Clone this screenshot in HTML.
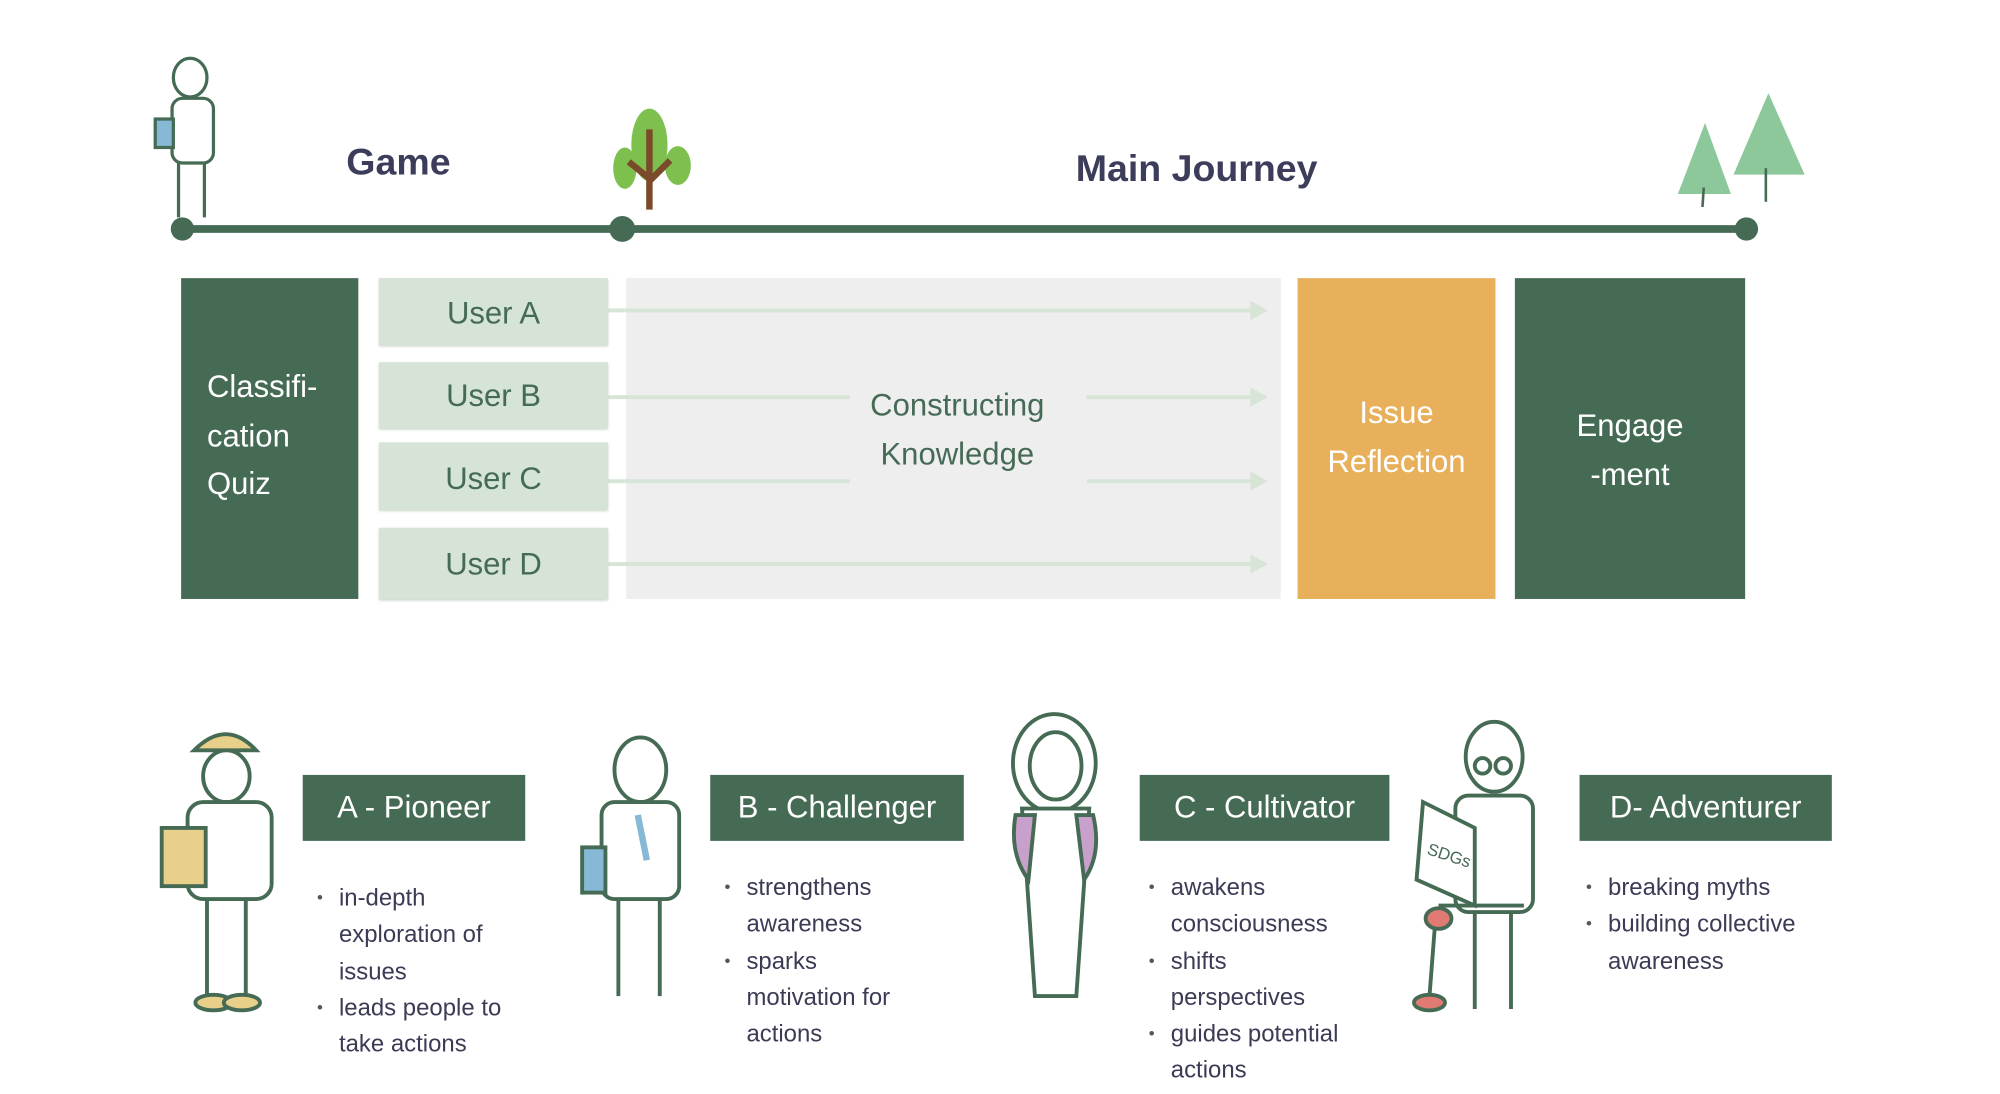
<!DOCTYPE html>
<html><head><meta charset="utf-8"><style>
html,body{margin:0;padding:0;background:#fff;}
body{width:2000px;height:1094px;overflow:hidden;position:relative;}
#c{position:absolute;left:0;top:0;width:1546px;height:846px;transform:scale(1.29366);transform-origin:0 0;font-family:"Liberation Sans",sans-serif;}
.a{position:absolute;}
.t{font-size:24px;line-height:37.5px;}
.dk{background:#456b55;color:#fff;}
.ug{background:#d5e4d6;color:#466b55;text-align:center;box-shadow:0 1px 2px #c8d6c8;}
.lab{background:#456b55;color:#fff;font-size:24px;text-align:center;line-height:51px;height:51px;}
ul{margin:0;padding:0;list-style:none;font-size:18.5px;line-height:28.3px;color:#3b3b55;}
li{position:relative;}
li:before{content:"•";position:absolute;left:-17px;font-size:13px;color:#555;}
</style></head><body><div id="c">
<svg class="a" style="left:0;top:0" width="1546" height="846">
 <line x1="140" y1="177" x2="1350" y2="177" stroke="#466b55" stroke-width="6"/>
 <circle cx="141" cy="177" r="9" fill="#466b55"/><circle cx="481" cy="177" r="10" fill="#466b55"/><circle cx="1350" cy="177" r="9" fill="#466b55"/>
 <!-- tree -->
 <ellipse cx="502" cy="112" rx="14" ry="28" fill="#7dc04e"/><ellipse cx="483" cy="130" rx="9" ry="16" fill="#7dc04e"/><ellipse cx="524" cy="128" rx="10" ry="15" fill="#7dc04e"/>
 <path d="M502 100 V162 M502 138 L486 125 M502 140 L518 124" stroke="#7a4a2a" stroke-width="5" fill="none"/>
 <!-- pines -->
 <path d="M1367 72 L1395 135 L1340 135 Z" fill="#8dc89b"/><line x1="1365" y1="130" x2="1365" y2="156" stroke="#466b55" stroke-width="2"/>
 <path d="M1318 95 L1338 150 L1297 150 Z" fill="#8dc89b"/><line x1="1317" y1="145" x2="1316" y2="160" stroke="#466b55" stroke-width="2"/>
 <!-- top man -->
 <g stroke="#466b55" stroke-width="2.5" fill="#fff">
  <ellipse cx="147" cy="60" rx="13" ry="15"/><rect x="133" y="76" width="32" height="50" rx="8"/>
  <path d="M138 126 V168 M158 126 V168"/><rect x="120" y="92" width="14" height="22" fill="#86b9d6"/>
 </g>
 <!-- arrows -->
 <g stroke="#d6e5d6" stroke-width="3" fill="#d6e5d6">
  <line x1="470" y1="240" x2="970" y2="240"/><path d="M968 235 L977 240 L968 245Z"/>
  <line x1="470" y1="307" x2="657" y2="307"/><line x1="840" y1="307" x2="970" y2="307"/><path d="M968 302 L977 307 L968 312Z"/>
  <line x1="470" y1="372" x2="657" y2="372"/><line x1="840" y1="372" x2="970" y2="372"/><path d="M968 367 L977 372 L968 377Z"/>
  <line x1="470" y1="436" x2="970" y2="436"/><path d="M968 431 L977 436 L968 441Z"/>
 </g>
 <!-- personas -->
 <g stroke="#466b55" stroke-width="3" fill="#fff">
  <path d="M150 580 Q175 555 198 580 Z" fill="#e8cf8a"/><ellipse cx="175" cy="600" rx="18" ry="20"/>
  <rect x="145" y="620" width="65" height="75" rx="12"/><path d="M160 695 V770 M190 695 V770"/>
  <rect x="125" y="640" width="34" height="45" fill="#e8cf8a"/><ellipse cx="165" cy="775" rx="14" ry="6" fill="#e8cf8a"/><ellipse cx="187" cy="775" rx="14" ry="6" fill="#e8cf8a"/>
  <ellipse cx="495" cy="595" rx="20" ry="25"/><rect x="465" y="620" width="60" height="75" rx="10"/>
  <path d="M478 695 V770 M510 695 V770"/><rect x="450" y="655" width="18" height="35" fill="#86b9d6"/><path d="M493 630 L500 665" stroke="#86b9d6" stroke-width="5"/>
  <ellipse cx="815" cy="590" rx="32" ry="38"/><ellipse cx="816" cy="592" rx="20" ry="26"/>
  <path d="M790 625 L800 770 L832 770 L842 625 Z"/><path d="M785 630 Q780 660 795 680 L800 630 Z M845 630 Q852 660 838 680 L832 630Z" fill="#c7a0cc"/>
  <ellipse cx="1155" cy="585" rx="22" ry="27"/><circle cx="1146" cy="592" r="6"/><circle cx="1162" cy="592" r="6"/>
  <rect x="1125" y="615" width="60" height="90" rx="10"/><path d="M1100 620 L1140 640 L1140 700 L1095 680 Z"/>
  <path d="M1112 700 H1178 M1140 705 V780 M1168 705 V780 M1110 705 L1105 770"/><ellipse cx="1112" cy="710" rx="10" ry="8" fill="#e07a72"/><ellipse cx="1105" cy="775" rx="12" ry="6" fill="#e07a72"/>
 </g>
 <text x="1103" y="664" font-size="13" fill="#466b55" transform="rotate(18 1115 660)" font-family="Liberation Sans">SDGs</text>
</svg>
<div class="a" style="left:200px;top:110px;width:216px;text-align:center;font-size:29px;color:#3c3d5b;font-weight:bold">Game</div>
<div class="a" style="left:780px;top:115px;width:290px;text-align:center;font-size:29px;color:#3c3d5b;font-weight:bold">Main Journey</div>
<div class="a dk t" style="left:140px;top:215px;width:117px;height:248px;padding-left:20px;box-sizing:content-box;width:117px"><div style="margin-top:66px">Classifi-<br>cation<br>Quiz</div></div>
<div class="a ug t" style="left:293px;top:215px;width:177px;height:52px;line-height:56px">User A</div>
<div class="a ug t" style="left:293px;top:280px;width:177px;height:51px;line-height:54px">User B</div>
<div class="a ug t" style="left:293px;top:342px;width:177px;height:52px;line-height:58px">User C</div>
<div class="a ug t" style="left:293px;top:408px;width:177px;height:55px;line-height:58px">User D</div>
<div class="a" style="left:484px;top:215px;width:506px;height:248px;background:#eeeeee;z-index:-1"></div>
<div class="a t" style="left:640px;top:295px;width:200px;text-align:center;color:#466b55">Constructing<br>Knowledge</div>
<div class="a t" style="left:1003px;top:215px;width:153px;height:248px;background:#e8b05a;color:#fff;text-align:center"><div style="margin-top:86px">Issue<br>Reflection</div></div>
<div class="a dk t" style="left:1171px;top:215px;width:178px;height:248px;text-align:center"><div style="margin-top:96px">Engage<br>-ment</div></div>
<div class="a lab" style="left:234px;top:599px;width:172px">A - Pioneer</div>
<div class="a lab" style="left:549px;top:599px;width:196px">B - Challenger</div>
<div class="a lab" style="left:881px;top:599px;width:193px">C - Cultivator</div>
<div class="a lab" style="left:1221px;top:599px;width:195px">D- Adventurer</div>
<ul class="a" style="left:262px;top:680px;width:150px"><li>in-depth exploration of issues</li><li>leads people to take actions</li></ul>
<ul class="a" style="left:577px;top:672px;width:140px"><li>strengthens awareness</li><li>sparks motivation for actions</li></ul>
<ul class="a" style="left:905px;top:672px;width:150px"><li>awakens consciousness</li><li>shifts perspectives</li><li>guides potential actions</li></ul>
<ul class="a" style="left:1243px;top:672px;width:170px"><li>breaking myths</li><li>building collective awareness</li></ul>
</div></body></html>
